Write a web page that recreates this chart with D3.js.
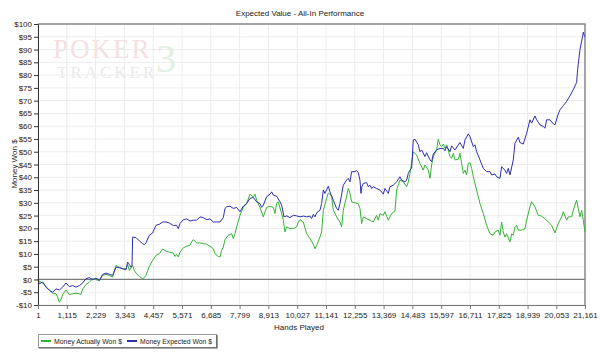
<!DOCTYPE html>
<html>
<head>
<meta charset="utf-8">
<script src="https://cdn.jsdelivr.net/npm/d3@7"></script>
<style>
  body { margin: 0; background: #fff; }
  svg { font-family: "Liberation Sans", Arial, sans-serif; }
</style>
</head>
<body>
<div id="chart"></div>
<script>
// hands played -> money won ($)
var actualWon = [
  [1,0],[53,-0.7],[182,-1.4],[310,-2.8],[439,-4.1],[568,-5.4],[697,-5.6],[762,-6.9],[826,-8.9],[891,-8.0],
  [955,-5.9],[1084,-4.1],[1213,-5.9],[1342,-5.6],[1471,-5.4],[1600,-5.6],[1664,-5.9],[1729,-3.7],[1858,-2.0],
  [1986,-1.0],[2115,0.3],[2244,-0.1],[2373,-0.4],[2502,1.6],[2631,2.0],[2760,1.6],[2889,0.9],[3018,5.5],
  [3147,4.8],[3276,4.2],[3405,4.2],[3469,5.9],[3534,3.5],[3663,5.5],[3727,3.5],[3792,2.5],[3921,1.2],
  [4050,0.3],[4114,0.7],[4178,1.6],[4307,5.1],[4436,7.5],[4565,9.4],[4694,10.1],[4823,11.9],[4952,11.1],
  [5081,10.7],[5236,10.3],[5300,9.0],[5365,9.8],[5429,8.8],[5494,10.7],[5623,12.4],[5752,13.0],[5881,13.4],
  [5945,14.7],[6010,15.6],[6138,14.3],[6267,14.3],[6396,14.0],[6525,13.8],[6654,13.0],[6783,12.0],
  [6848,10.1],[6976,9.0],[7041,8.8],[7105,11.4],[7170,12.7],[7234,15.6],[7363,17.3],[7492,17.9],
  [7557,16.0],[7621,17.9],[7686,20.6],[7815,25.1],[7944,28.2],[8072,29.7],[8201,33.4],[8330,32.1],
  [8395,33.4],[8459,31.0],[8588,28.2],[8717,24.5],[8782,26.5],[8846,28.2],[8975,28.7],[9104,28.2],
  [9168,25.8],[9233,29.7],[9297,30.4],[9426,25.8],[9491,23.2],[9555,18.6],[9620,20.6],[9748,19.9],
  [9877,19.9],[10006,20.6],[10071,22.5],[10135,23.4],[10264,22.5],[10393,17.9],[10522,16.0],[10651,13.8],
  [10715,12.0],[10780,13.4],[10909,16.6],[10973,18.6],[11038,27.1],[11166,31.7],[11231,33.9],[11360,32.6],
  [11424,27.1],[11553,24.5],[11682,22.5],[11747,20.6],[11811,27.1],[11940,32.6],[12004,35.6],[12069,33.7],
  [12133,30.4],[12262,30.0],[12391,29.7],[12456,27.8],[12520,21.9],[12585,24.5],[12714,23.8],[12843,23.2],
  [12971,22.5],[13100,25.1],[13165,23.2],[13229,25.8],[13358,25.1],[13423,26.5],[13552,23.2],[13681,25.8],
  [13810,26.8],[13874,35.0],[14003,38.9],[14132,38.2],[14261,36.3],[14325,38.2],[14390,41.5],[14519,50.0],
  [14648,48.7],[14777,45.4],[14905,42.8],[14970,44.8],[15099,42.8],[15163,39.6],[15228,44.8],[15292,48.1],
  [15421,50.7],[15486,54.9],[15551,52.7],[15615,52.0],[15680,53.0],[15744,51.3],[15809,52.7],[15873,50.7],
  [15938,48.1],[16002,47.4],[16067,49.4],[16131,46.8],[16260,47.0],[16324,49.4],[16389,45.4],[16453,41.5],
  [16518,42.8],[16582,40.9],[16647,45.4],[16711,45.7],[16776,43.5],[16840,40.2],[16969,35.0],[17098,29.7],
  [17227,25.8],[17356,21.2],[17485,17.9],[17614,17.3],[17678,18.6],[17807,19.3],[17872,17.3],[17936,22.5],
  [18000,18.6],[18065,16.6],[18129,17.9],[18258,14.7],[18323,17.9],[18387,17.3],[18452,20.6],[18516,21.2],
  [18581,19.3],[18710,19.3],[18839,19.9],[18903,23.2],[19032,28.4],[19096,30.4],[19225,28.4],[19354,25.1],
  [19483,24.8],[19612,23.8],[19741,22.5],[19870,21.2],[19999,18.2],[20128,21.9],[20257,24.5],[20322,26.5],
  [20451,23.2],[20515,24.5],[20644,24.5],[20708,27.1],[20837,31.0],[20901,27.8],[20966,24.5],[21030,27.1],
  [21095,23.2],[21161,18.6]
];

var expectedWon = [
  [1,0],[53,-1.7],[182,-1.0],[310,-3.0],[439,-4.3],[568,-5.0],[697,-3.7],[826,-4.1],[955,-3.0],[1084,-1.4],
  [1213,-2.8],[1342,-2.4],[1471,-3.0],[1600,-2.4],[1729,-1.4],[1858,0.3],[1986,0.7],[2115,-0.1],[2244,0.5],
  [2373,-0.4],[2502,2.0],[2631,2.5],[2760,2.0],[2889,1.6],[3018,4.8],[3147,4.6],[3276,4.2],[3405,3.8],
  [3469,6.8],[3534,5.9],[3598,4.8],[3637,5.5],[3663,16.6],[3792,16.4],[3921,15.1],[4050,14.0],[4114,13.6],
  [4178,14.3],[4307,17.3],[4436,18.2],[4565,21.2],[4694,21.6],[4823,22.5],[4952,22.5],[5081,22.1],
  [5236,21.1],[5365,21.2],[5429,19.9],[5494,21.9],[5623,23.4],[5752,23.7],[5881,22.9],[6010,23.2],
  [6138,23.2],[6267,24.5],[6396,24.2],[6525,23.4],[6654,23.7],[6783,22.5],[6912,22.5],[7041,22.5],
  [7170,24.2],[7234,27.8],[7299,28.4],[7428,28.7],[7557,27.8],[7686,28.2],[7815,26.5],[7944,28.7],
  [8072,29.7],[8201,31.7],[8330,32.1],[8459,30.4],[8588,29.7],[8653,28.2],[8717,29.1],[8846,32.4],
  [8975,33.4],[9039,34.3],[9104,33.0],[9233,32.6],[9362,30.4],[9426,29.1],[9516,24.5],[9620,24.9],
  [9748,24.2],[9877,25.1],[10006,24.9],[10135,24.5],[10264,24.8],[10393,24.5],[10522,24.8],[10586,23.8],
  [10651,25.5],[10715,24.5],[10780,26.1],[10909,27.1],[10973,29.7],[11038,35.0],[11102,33.7],[11231,36.5],
  [11295,34.3],[11424,31.0],[11553,27.8],[11618,27.1],[11682,29.7],[11811,36.9],[11940,38.9],[12004,39.6],
  [12069,38.2],[12133,42.2],[12262,42.2],[12327,42.6],[12391,41.8],[12456,38.9],[12494,33.7],[12533,36.3],
  [12585,37.6],[12714,37.9],[12778,36.3],[12843,36.9],[12907,35.6],[12971,36.3],[13100,35.6],[13229,35.0],
  [13358,33.4],[13423,35.6],[13552,33.7],[13616,36.3],[13745,36.9],[13874,38.2],[14003,40.2],[14067,38.9],
  [14196,38.2],[14261,38.9],[14325,41.5],[14390,42.8],[14454,43.5],[14519,54.6],[14583,54.9],[14712,52.7],
  [14777,50.0],[14841,50.7],[14970,48.1],[15034,49.6],[15163,46.8],[15228,46.1],[15292,49.1],[15421,50.7],
  [15551,51.3],[15680,51.3],[15744,50.4],[15809,52.0],[15938,50.0],[16002,52.3],[16131,50.7],[16260,52.7],
  [16324,53.6],[16453,51.3],[16518,54.6],[16647,57.0],[16711,55.9],[16840,52.0],[16905,52.7],[16969,50.0],
  [17098,46.8],[17227,43.5],[17356,42.2],[17485,42.2],[17549,40.9],[17678,41.3],[17743,40.2],[17872,39.6],
  [17936,44.1],[18065,42.8],[18129,41.5],[18194,43.5],[18258,40.9],[18387,46.8],[18452,53.3],[18581,55.7],
  [18645,53.6],[18774,53.0],[18903,57.2],[19032,62.5],[19096,61.2],[19225,64.0],[19290,62.5],[19419,60.5],
  [19548,59.9],[19612,59.2],[19677,62.5],[19806,62.5],[19935,60.9],[19999,60.5],[20128,64.8],[20193,66.4],
  [20322,68.0],[20451,69.7],[20579,71.9],[20708,74.3],[20837,77.1],[20876,82.1],[20966,90.0],[21069,95.2],
  [21095,96.8],[21134,95.5],[21161,95.0]
];

var xTicks = [1,1115,2229,3343,4457,5571,6685,7799,8913,10027,11141,12255,13369,14483,15597,16711,17825,18939,20053,21161];
var yTicks = [-10,-5,0,5,10,15,20,25,30,35,40,45,50,55,60,65,70,75,80,85,90,95,100];

var seriesNames = ["Money Actually Won $", "Money Expected Won $"];
var seriesColors = ["#35b335", "#2e2eb4"];

var width = 600, height = 358;
var margin = {top: 24, right: 15, bottom: 53, left: 38};

var svg = d3.select('#chart').append('svg')
  .attr('width', width)
  .attr('height', height);

var x = d3.scaleLinear().domain([1, 21161]).range([margin.left, width - margin.right]);
var y = d3.scaleLinear().domain([-10, 100]).range([height - margin.bottom, margin.top]);

// watermark
var wm = svg.append('g').attr('font-family', '"Liberation Serif", "DejaVu Serif", serif');
wm.append('text').attr('x', 53).attr('y', 58).attr('font-size', 27).attr('fill', '#f4e0e0')
  .attr('letter-spacing', 2).text('POKER');
wm.append('text').attr('x', 156).attr('y', 72).attr('font-size', 40).attr('fill', '#e2efe2').text('3');
wm.append('text').attr('x', 57).attr('y', 78).attr('font-size', 17).attr('fill', '#e8eae8')
  .attr('letter-spacing', 3).text('TRACKER');

// grid
svg.append('g').selectAll('line.h').data(yTicks).enter().append('line')
  .attr('x1', x(1)).attr('x2', x(21161))
  .attr('y1', function(d) { return y(d); }).attr('y2', function(d) { return y(d); })
  .attr('stroke', '#ececec');
svg.append('g').selectAll('line.v').data(xTicks).enter().append('line')
  .attr('x1', function(d) { return x(d); }).attr('x2', function(d) { return x(d); })
  .attr('y1', y(-10)).attr('y2', y(100))
  .attr('stroke', '#ececec');

// zero line
svg.append('line')
  .attr('x1', x(1)).attr('x2', x(21161))
  .attr('y1', y(0)).attr('y2', y(0))
  .attr('stroke', '#7a7a7a').attr('stroke-width', 1.2);

// frame top / right
svg.append('path')
  .attr('d', 'M' + x(1) + ',' + y(100) + 'H' + x(21161) + 'V' + y(-10))
  .attr('fill', 'none').attr('stroke', '#8a8a8a').attr('stroke-width', 1.5);

// lines
var line = d3.line()
  .x(function(d) { return x(d[0]); })
  .y(function(d) { return y(d[1]); });

[actualWon, expectedWon].forEach(function(s, i) {
  svg.append('path')
    .datum(s)
    .attr('fill', 'none')
    .attr('stroke', seriesColors[i])
    .attr('stroke-width', 1)
    .attr('stroke-linejoin', 'round')
    .attr('d', line);
});

// axes
var fmtY = function(d) { return d < 0 ? '-$' + (-d) : '$' + d; };

var gy = svg.append('g')
  .attr('transform', 'translate(' + margin.left + ',0)')
  .call(d3.axisLeft(y).tickValues(yTicks).tickFormat(fmtY).tickSize(4).tickPadding(2));
gy.select('.domain').attr('stroke', '#333');
gy.selectAll('.tick line').attr('stroke', '#333');

var gx = svg.append('g')
  .attr('transform', 'translate(0,' + y(-10) + ')')
  .call(d3.axisBottom(x).tickValues(xTicks).tickFormat(d3.format(',')).tickSize(4).tickPadding(3));
gx.select('.domain').attr('stroke', '#777');
gx.selectAll('.tick line').attr('stroke', '#777');

svg.selectAll('.tick text').attr('font-size', 8).attr('fill', '#222')
  .attr('font-family', '"Liberation Sans", Arial, sans-serif');

// titles
svg.append('text').attr('x', 300).attr('y', 16).attr('text-anchor', 'middle')
  .attr('font-size', 8).attr('fill', '#222').text('Expected Value - All-In Performance');
svg.append('text').attr('x', 299).attr('y', 330).attr('text-anchor', 'middle')
  .attr('font-size', 8).attr('fill', '#222').text('Hands Played');
svg.append('text').attr('transform', 'translate(17,164) rotate(-90)').attr('text-anchor', 'middle')
  .attr('font-size', 8).attr('fill', '#222').text('Money Won $');

// legend
var lg = svg.append('g');
lg.append('rect').attr('x', 38.5).attr('y', 334.5).attr('width', 178).attr('height', 13)
  .attr('fill', '#fff').attr('stroke', '#9a9a9a');
lg.append('path').attr('d', 'M39,348H217V335').attr('fill', 'none').attr('stroke', '#555').attr('stroke-width', 1.2);
var legendX = [41, 127];
var legendTextW = [68, 72];
seriesNames.forEach(function(n, i) {
  lg.append('line').attr('x1', legendX[i]).attr('x2', legendX[i] + 10)
    .attr('y1', 341).attr('y2', 341)
    .attr('stroke', seriesColors[i]).attr('stroke-width', 2);
  lg.append('text').attr('x', legendX[i] + 13).attr('y', 344)
    .attr('font-size', 8).attr('fill', '#222')
    .attr('textLength', legendTextW[i]).attr('lengthAdjust', 'spacingAndGlyphs')
    .text(n);
});
</script>
</body>
</html>
